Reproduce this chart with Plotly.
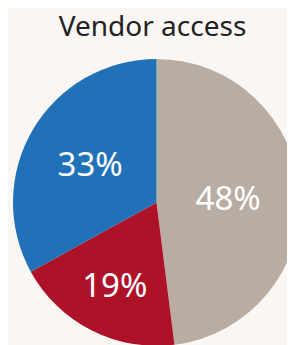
import plotly.graph_objects as go

labels = ["Other", "Red", "Blue"]
values = [48, 19, 33]
colors = ["#b9ada3", "#ae1229", "#2171b9"]
title = "Vendor access"

fig = go.Figure(go.Pie(
    labels=labels,
    values=values,
    sort=False,
    direction="clockwise",
    rotation=0,
    marker=dict(colors=colors, line=dict(width=0)),
    texttemplate="%{value}%",
    textposition="inside",
    insidetextorientation="horizontal",
    textfont=dict(color="white", size=33, family="Noto Sans"),
    hoverinfo="label+value",
    showlegend=False,
))

fig.update_layout(
    width=295, height=345,
    margin=dict(l=5, r=3, t=51, b=7),
    paper_bgcolor="#faf6f3",
    plot_bgcolor="#faf6f3",
    title=dict(text=title, x=0.49, xanchor="center", y=0.947, yanchor="middle",
               font=dict(family="Noto Sans", size=28, color="#222222")),
)

fig.write_html("out.html")
